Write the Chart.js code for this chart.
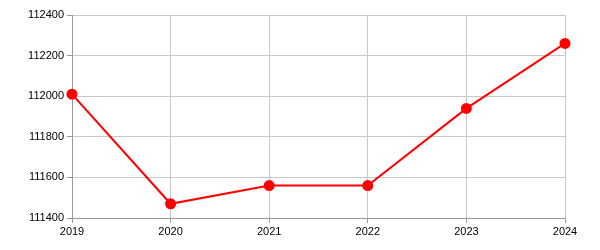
<!DOCTYPE html>
<html><head><meta charset="utf-8">
<script src="https://cdn.jsdelivr.net/npm/chart.js@4"></script>
<style>html,body{margin:0;padding:0;background:#fff}#wrap{width:600px;height:250px}</style>
</head><body><div id="wrap"><canvas id="c"></canvas></div>
<script>
const years = ["2019","2020","2021","2022","2023","2024"];
const values = [112010, 111470, 111560, 111560, 111940, 112260];
const yMin = 111400, yMax = 112400, yStep = 200;

new Chart(document.getElementById('c'), {
  type: 'line',
  data: { labels: years, datasets: [{
    data: values, borderColor: '#ff0000', backgroundColor: '#ff0000',
    borderWidth: 2, pointRadius: 4.5, pointHoverRadius: 4.5, tension: 0, fill: false
  }]},
  options: {
    responsive: true, maintainAspectRatio: false, animation: false,
    devicePixelRatio: 1,
    layout: { padding: { top: 15, right: 35, left: 0, bottom: 0 } },
    plugins: { legend: { display: false }, tooltip: { enabled: false } },
    scales: {
      x: {
        grid: { color: '#c8c8c8', tickLength: 5, tickColor: '#999' },
        border: { color: '#999' },
        ticks: { color: '#000', font: { family: 'Liberation Sans', size: 11 }, padding: 2, maxRotation: 0 },
        afterFit: s => { s.height = 32; }
      },
      y: {
        min: yMin, max: yMax,
        grid: { color: '#c8c8c8', tickLength: 5, tickColor: '#999' },
        border: { color: '#999' },
        ticks: { stepSize: yStep, color: '#000', font: { family: 'Liberation Sans', size: 11 }, padding: 3,
          callback: v => String(v) },
        afterFit: s => { s.width = 72; }
      }
    }
  }
});
</script></body></html>
